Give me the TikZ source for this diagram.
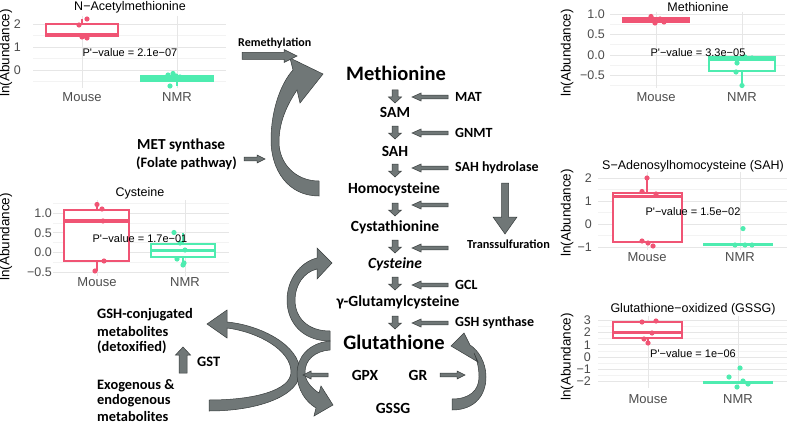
\documentclass[tikz,border=0pt]{standalone}
\usepackage{fontspec}
\newfontfamily\pf{Liberation Sans}
\newfontfamily\cf{Carlito}
\definecolor{mouse}{RGB}{240,84,116}
\definecolor{nmr}{RGB}{78,236,176}
\definecolor{gmaj}{RGB}{230,230,230}
\definecolor{gmin}{RGB}{243,243,243}
\definecolor{tickc}{RGB}{77,77,77}
\definecolor{afill}{RGB}{112,119,119}
\definecolor{aline}{RGB}{55,60,60}
\newcommand{\barrow}[6]{\filldraw[blk,shift={#1},rotate=#2] (0,-#4) -- ({#3-#6},-#4) -- ({#3-#6},-#5) -- (#3,0) -- ({#3-#6},#5) -- ({#3-#6},#4) -- (0,#4) -- cycle;}
\tikzset{
 blk/.style={fill=afill, draw=aline, line width=0.5pt, line join=miter},
 pw/.style={font=\cf\bfseries\fontsize{15.5}{17}\selectfont, inner sep=0pt},
 pwbig/.style={font=\cf\bfseries\fontsize{20.5}{22}\selectfont, inner sep=0pt},
 enz/.style={font=\cf\bfseries\fontsize{14}{16}\selectfont, inner sep=0pt, anchor=west},
 side/.style={font=\cf\bfseries\fontsize{14.4}{16}\selectfont, inner sep=0pt, anchor=west},
 gmajor/.style={draw=gmaj, line width=0.8pt},
 gminor/.style={draw=gmin, line width=0.5pt},
 ptitle/.style={font=\pf\fontsize{12.5}{14}\selectfont, inner sep=0pt},
 ptick/.style={font=\pf\fontsize{12.5}{14}\selectfont, text=tickc, inner sep=0pt, anchor=east},
 pcat/.style={font=\pf\fontsize{13}{15}\selectfont, text=tickc, inner sep=0pt},
 pylab/.style={font=\pf\fontsize{13.5}{15}\selectfont, inner sep=0pt, rotate=90},
 pval/.style={font=\pf\fontsize{11}{13}\selectfont, inner sep=0pt},
 mbox/.style={draw=mouse, fill=white, line width=2pt},
 nbox/.style={draw=nmr, fill=white, line width=2pt},
 mmed/.style={draw=mouse, line width=3.5pt},
 nmed/.style={draw=nmr, line width=3.5pt},
 mwh/.style={draw=mouse, line width=2pt},
 nwh/.style={draw=nmr, line width=2pt},
}
\begin{document}
\begin{tikzpicture}[x=1pt,y=-1pt]
\useasboundingbox (0,0) rectangle (794,425);
\fill[white] (0,0) rectangle (794,425);

% ================= Plot 1: N-Acetylmethionine
\foreach \y in {35.5,58.5,81.5} \draw[gminor] (33,\y) -- (226,\y);
\foreach \y in {24,47,70} \draw[gmajor] (33,\y) -- (226,\y);
\foreach \x in {82,177} \draw[gmajor] (\x,16) -- (\x,88);
\draw[mwh] (82,24) -- (82,19.4);
\draw[mbox] (46,24) rectangle (118,36);
\draw[mmed] (46,34.5) -- (118,34.5);
\draw[nwh] (177,81) -- (177,86);
\draw[nbox] (141,76.4) rectangle (213,81);
\draw[nmed] (141,78.7) -- (213,78.7);
\foreach \p in {(87,19),(79,25),(82,37),(87,38),(84,36)} \fill[mouse] \p circle (2.6pt);
\foreach \p in {(173,73.5),(168,75),(176,76),(180,77),(170,86)} \fill[nmr] \p circle (2.6pt);
\node[ptitle] (t1) at (130,7) {N−Acetylmethionine};
\node[pylab] (y1) at (6,53) {ln(Abundance)};
\node[ptick] (a1) at (21,24) {2};
\node[ptick] (b1) at (21,47) {1};
\node[ptick] (c1) at (21,70) {0};
\node[pcat] (m1) at (82,97) {Mouse};
\node[pcat] (n1) at (177,97) {NMR};
\node[pval] (p1) at (130,53) {P\textquotesingle−value = 2.1e−07};

% ================= Plot 2: Methionine
\foreach \y in {24.25,44.75,65.25,85.75} \draw[gminor] (610,\y) -- (785,\y);
\foreach \y in {14,34.5,55,75.5} \draw[gmajor] (610,\y) -- (785,\y);
\foreach \x in {656,742} \draw[gmajor] (\x,12) -- (\x,88);
\draw[mbox] (623,18.1) rectangle (689,22.2);
\draw[mmed] (623,20.2) -- (689,20.2);
\draw[nwh] (742,70.6) -- (742,85.5);
\draw[nbox] (709,57) rectangle (775,70.6);
\draw[nmed] (709,59) -- (775,59);
\foreach \p in {(651,16.5),(655,23),(664,22),(660,19),(668,20)} \fill[mouse] \p circle (2.6pt);
\foreach \p in {(737,63),(736,72),(742,85.5),(745,57),(752,58)} \fill[nmr] \p circle (2.6pt);
\node[ptitle] (t2) at (698,7) {Methionine};
\node[pylab] (y2) at (567,53) {ln(Abundance)};
\node[ptick] (a2) at (605,14) {1.0};
\node[ptick] (b2) at (605,34.5) {0.5};
\node[ptick] (c2) at (605,55) {0.0};
\node[ptick] (d2) at (605,75.5) {−0.5};
\node[pcat] (m2) at (656,97) {Mouse};
\node[pcat] (n2) at (742,97) {NMR};
\node[pval] (p2) at (698,53) {P\textquotesingle−value = 3.3e−05};

% ================= Plot 3: Cysteine
\foreach \y in {203.1,222.9,242.6,262.4} \draw[gminor] (53,\y) -- (229,\y);
\foreach \y in {213,232.75,252.5,272.25} \draw[gmajor] (53,\y) -- (229,\y);
\foreach \x in {97,185} \draw[gmajor] (\x,200) -- (\x,276);
\draw[mwh] (97,205.1) -- (97,271);
\draw[mbox] (64,210.2) rectangle (129,261.2);
\draw[mmed] (64,220.9) -- (129,220.9);
\draw[nwh] (183,232.75) -- (183,264.4);
\draw[nbox] (151,243.8) rectangle (215,257.2);
\draw[nmed] (151,250.7) -- (215,250.7);
\foreach \p in {(97,204.5),(102,209),(104,261),(95,271),(103,221)} \fill[mouse] \p circle (2.6pt);
\foreach \p in {(174,232.5),(180,243),(185,250),(177,259),(184,263),(183,265)} \fill[nmr] \p circle (2.6pt);
\node[ptitle] (t3) at (140,193) {Cysteine};
\node[pylab] (y3) at (6,237) {ln(Abundance)};
\node[ptick] (a3) at (52,213) {1.0};
\node[ptick] (b3) at (52,232.75) {0.5};
\node[ptick] (c3) at (52,252.5) {0.0};
\node[ptick] (d3) at (52,272.25) {−0.5};
\node[pcat] (m3) at (97,282) {Mouse};
\node[pcat] (n3) at (185,282) {NMR};
\node[pval] (p3) at (140,239) {P\textquotesingle−value = 1.7e−01};

% ================= Plot 4: SAH
\foreach \y in {189.5,212.5,235.5} \draw[gminor] (598,\y) -- (787,\y);
\foreach \y in {178,201,224,247} \draw[gmajor] (598,\y) -- (787,\y);
\foreach \x in {647,740} \draw[gmajor] (\x,172) -- (\x,250);
\draw[mwh] (647,178) -- (647,193);
\draw[mbox] (613,193) rectangle (682,242);
\draw[mmed] (613,196.4) -- (682,196.4);
\draw[nmed] (703,244.7) -- (773,244.7);
\foreach \p in {(647,178),(642,191.5),(656,194),(642,241),(648,243),(653,246)} \fill[mouse] \p circle (2.6pt);
\foreach \p in {(743,228.6),(735,245),(745,245),(752,245)} \fill[nmr] \p circle (2.6pt);
\node[ptitle] (t4) at (693,166) {S−Adenosylhomocysteine (SAH)};
\node[pylab] (y4) at (567,213) {ln(Abundance)};
\node[ptick] (a4) at (592,178) {2};
\node[ptick] (b4) at (592,201) {1};
\node[ptick] (c4) at (592,224) {0};
\node[ptick] (d4) at (592,247) {−1};
\node[pcat] (m4) at (647,257) {Mouse};
\node[pcat] (n4) at (740,257) {NMR};
\node[pval] (p4) at (693,212) {P\textquotesingle−value = 1.5e−02};

% ================= Plot 5: GSSG
\foreach \y in {326.25,338.55,350.85,363.15,375.45} \draw[gminor] (598,\y) -- (787,\y);
\foreach \y in {320.1,332.4,344.7,357,369.3,381.6} \draw[gmajor] (598,\y) -- (787,\y);
\foreach \x in {648,738} \draw[gmajor] (\x,316) -- (\x,388);
\draw[mwh] (648,338) -- (648,343.5);
\draw[mbox] (613,322) rectangle (682,338);
\draw[mmed] (613,332.4) -- (682,332.4);
\draw[nmed] (703,382.5) -- (773,382.5);
\foreach \p in {(642,322),(656,321),(644,339),(648,343),(652,333)} \fill[mouse] \p circle (2.6pt);
\foreach \p in {(740,368),(729,377),(743,381),(737,387),(748,384)} \fill[nmr] \p circle (2.6pt);
\node[ptitle] (t5) at (693,309) {Glutathione−oxidized (GSSG)};
\node[pylab] (y5) at (567,357) {ln(Abundance)};
\node[ptick] (a5) at (591,320.1) {3};
\node[ptick] (b5) at (591,332.4) {2};
\node[ptick] (c5) at (591,344.7) {1};
\node[ptick] (d5) at (591,357) {0};
\node[ptick] (e5) at (591,369.3) {−1};
\node[ptick] (f5) at (591,381.6) {−2};
\node[pcat] (m5) at (648,399) {Mouse};
\node[pcat] (n5) at (738,399) {NMR};
\node[pval] (p5) at (693,354) {P\textquotesingle−value = 1e−06};

% ================= Curved arrows
% D: exogenous -> GSH-conjugated
\filldraw[blk] (209,411) .. controls (260,411) and (300,395) .. (300,372) .. controls (300,345) and (260,325) .. (227,322) -- (227,310) -- (207,324) -- (227,338) -- (227,328) .. controls (258,332) and (291,350) .. (291,372) .. controls (291,390) and (255,400) .. (209,400) -- cycle;
% A: homocysteine -> methionine (remethylation)
\filldraw[blk] (319,196) .. controls (288,196) and (271,170) .. (271,140) .. controls (271,110) and (281,83) .. (293,70) -- (290,58) -- (323,74) -- (300,103) -- (297,90) .. controls (287,105) and (279,122) .. (279,142) .. controls (279,163) and (295,181) .. (319,181) -- cycle;
% B: glutathione -> cysteine
\filldraw[blk] (330,341) .. controls (302,341) and (287,322) .. (287,300) .. controls (287,280) and (300,262) .. (317,258) -- (317,248) -- (332,263) -- (317,279) -- (317,269) .. controls (304,272) and (295,285) .. (295,300) .. controls (295,318) and (308,331) .. (330,331) -- cycle;
% C: glutathione -> GSSG
\filldraw[blk] (330,341) .. controls (308,343) and (297,358) .. (297,373) .. controls (297,390) and (306,402) .. (316,408) -- (314,416) -- (333,405) -- (321,386) -- (319,393) .. controls (310,387) and (305,380) .. (305,372) .. controls (305,360) and (315,351) .. (330,350) -- cycle;
% E: GSSG -> glutathione (GR)
\filldraw[blk] (452,410) .. controls (475,410) and (486,395) .. (486,377) .. controls (486,362) and (478,350) .. (470,345) -- (464,333) -- (451,346) -- (478,362) -- (474,353) .. controls (477,360) and (479,368) .. (479,377) .. controls (479,390) and (470,399) .. (452,399) -- cycle;

% ================= Straight block arrows
\foreach \y in {90,126,164,203,240,277,316} {\barrow{(395,\y)}{-90}{13}{3}{6.5}{6}}
\foreach \y in {97,133,168,205,248,285,323} {\barrow{(448,\y)}{180}{36}{1.8}{4}{9}}
\barrow{(328,375)}{180}{25}{1.8}{4}{8}
\barrow{(440,375)}{0}{25}{1.8}{4}{8}
\barrow{(244,159)}{0}{21}{1.8}{4}{8}
\barrow{(242,56)}{0}{55}{3.5}{6.5}{13}
\barrow{(505,183)}{-90}{51}{3.5}{12}{17}
\barrow{(183,373)}{90}{26}{4}{7.5}{8}

% ================= Pathway text
\node[pwbig] (met) at (396,73) {Methionine};
\node[pw] (sam) at (395,112) {SAM};
\node[pw] (sah) at (395,151) {SAH};
\node[pw] (hcy) at (394,189) {Homocysteine};
\node[pw] (cysta) at (395,227) {Cystathionine};
\node[pw] (cys) at (395,264) {\itshape Cysteine};
\node[pw] (gglu) at (398,302) {γ-Glutamylcysteine};
\node[pwbig] (gsh) at (394,342) {Glutathione};
\node[pw] (gpx) at (365,375) {GPX};
\node[pw] (gr) at (418,375) {GR};
\node[pw] (gssg) at (393,408) {GSSG};
\node[enz] (mat) at (455,97) {MAT};
\node[enz] (gnmt) at (455,133) {GNMT};
\node[enz] (sahh) at (455,168) {SAH hydrolase};
\node[enz] (gcl) at (455,285) {GCL};
\node[enz] (gshs) at (455,323) {GSH synthase};
\node[enz, font=\cf\bfseries\fontsize{12.3}{14}\selectfont] (trans) at (467,244) {Transsulfuration};
\node[enz, font=\cf\bfseries\fontsize{12}{14}\selectfont] (remeth) at (238,43) {Remethylation};
\node[side, font=\cf\bfseries\fontsize{15.3}{17}\selectfont] (mets) at (137,145) {MET synthase};
\node[side] (fol) at (136,163) {(Folate pathway)};
\node[side] (conj1) at (97,315) {GSH-conjugated};
\node[side] (conj2) at (97,331) {metabolites};
\node[side] (conj3) at (97,347) {(detoxified)};
\node[side] (gst) at (197,362) {GST};
\node[side] (exo1) at (97,386) {Exogenous \&};
\node[side] (exo2) at (97,401) {endogenous};
\node[side] (exo3) at (97,416) {metabolites};
\end{tikzpicture}
\end{document}
